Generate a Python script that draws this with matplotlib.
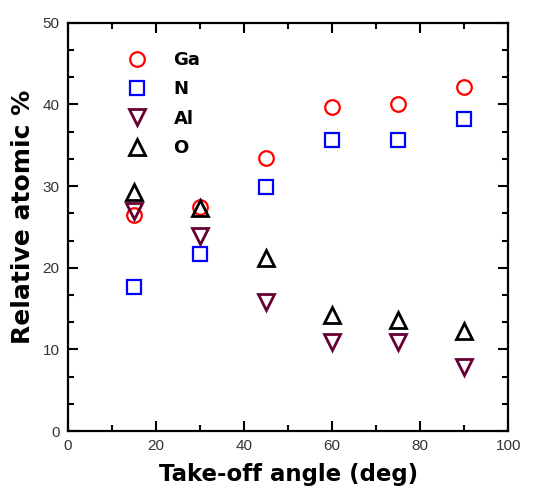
#!/usr/bin/env python3
import numpy as np
import matplotlib
matplotlib.use('Agg')
import matplotlib.pyplot as plt
from matplotlib.ticker import MultipleLocator

plt.rcParams['font.family'] = ['Liberation Sans', 'DejaVu Sans']

angle = [15, 30, 45, 60, 75, 90]
ga = [26.5, 27.5, 33.5, 39.7, 40.1, 42.1]
n = [17.6, 21.7, 29.9, 35.6, 35.6, 38.2]
al = [27.0, 23.9, 15.8, 10.9, 10.9, 7.9]
ox = [29.3, 27.3, 21.2, 14.2, 13.6, 12.3]

fig = plt.figure(figsize=(5.4, 4.86), dpi=100)
ax = fig.add_axes([0.126, 0.113, 0.815, 0.84])

mew = 1.6
ax.plot(angle, ga, 'o', ms=10.5, mfc='none', mec='#ff0000', mew=mew, label='Ga')
ax.plot(angle, n, 's', ms=9.5, mfc='none', mec='#0000ff', mew=mew, label='N')
ax.plot(angle, al, 'v', ms=11, mfc='none', mec='#660033', mew=mew + 0.4, label='Al')
ax.plot(angle, ox, '^', ms=11, mfc='none', mec='black', mew=mew + 0.4, label='O')

ax.set_xlim(0, 100)
ax.set_ylim(0, 50)
ax.xaxis.set_major_locator(MultipleLocator(20))
ax.xaxis.set_minor_locator(MultipleLocator(10))
ax.yaxis.set_major_locator(MultipleLocator(10))
ax.yaxis.set_minor_locator(MultipleLocator(10 / 3))
ax.tick_params(which='both', direction='in', top=True, right=True, width=1.5,
               labelsize=11, labelcolor='#333333', pad=6)
ax.tick_params(which='major', length=7)
ax.tick_params(which='minor', length=4)
for s in ax.spines.values():
    s.set_linewidth(1.6)

lab = dict(fontweight='bold', family='DejaVu Sans')
ax.set_xlabel('Take-off angle (deg)', fontsize=16.5, labelpad=7, **lab)
ax.set_ylabel('Relative atomic %', fontsize=18, **lab)
ax.yaxis.set_label_coords(-0.074, 0.525)

ax.legend(loc='upper left', bbox_to_anchor=(0.1, 0.948), frameon=False,
          prop={'weight': 'bold', 'size': 13, 'family': 'DejaVu Sans'},
          handletextpad=1.0, labelspacing=0.62, borderaxespad=0)

fig.savefig('out.png', dpi=100)
